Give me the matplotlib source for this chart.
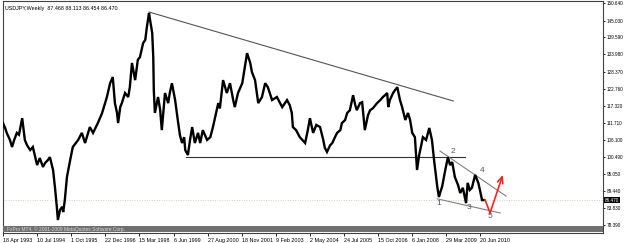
import matplotlib
matplotlib.use("Agg")
import matplotlib.pyplot as plt
from matplotlib.patches import Rectangle
from matplotlib.transforms import blended_transform_factory

# ---------------------------------------------------------------------------
# Data (weeks since 18 Apr 1993, USDJPY weekly close)
# ---------------------------------------------------------------------------

weeks = [0, 4, 7, 13, 17, 21, 26, 30, 36, 41, 45, 51, 56, 64, 69, 75, 79, 84, 88, 94,
         98, 101, 103, 107, 111, 113, 116, 120, 126, 131, 141, 148, 154, 163, 169, 178,
         186, 195, 201, 206, 210, 214, 216, 220, 223, 229, 235, 238, 242, 248, 253, 257,
         263, 267, 270, 274, 276, 280, 282, 283, 285, 291, 295, 298, 304, 310, 313, 317,
         323, 328, 332, 336, 340, 342, 347, 351, 355, 360, 366, 370, 375, 383, 389, 394,
         404, 407, 413, 420, 426, 432, 435, 441, 449, 458, 464, 467, 473, 479, 486, 492,
         497, 505, 514, 524, 533, 538, 542, 544, 550, 557, 567, 572, 576, 582, 588, 595,
         601, 604, 608, 614, 618, 623, 627, 633, 636, 642, 646, 651, 655, 657, 661, 664,
         670, 674, 679, 685, 689, 694, 702, 708, 713, 717, 721, 723, 726, 732, 736, 740,
         745, 749, 755, 760, 764, 768, 773, 777, 781, 783, 788, 794, 800, 805, 809, 815,
         818, 822, 824, 830, 835, 839, 843, 848, 854, 858, 863, 869, 872, 876, 880, 886,
         892, 895, 899, 902]
close = [111.6, 110.0, 108.4, 106.1, 103.8, 106.1, 108.4, 107.8, 113.2, 106.1, 104.4, 102.8,
         103.8, 97.9, 100.2, 97.3, 98.6, 99.5, 100.5, 96.3, 89.8, 84.3, 80.0, 83.3, 84.3,
         82.6, 86.5, 94.0, 99.5, 103.8, 106.1, 108.4, 105.1, 110.3, 108.4, 111.6, 114.9,
         120.1, 124.6, 126.6, 118.1, 114.9, 111.6, 116.8, 118.1, 121.4, 120.1, 123.3, 131.2,
         125.6, 132.2, 133.1, 137.7, 138.7, 142.9, 147.5, 145.2, 141.0, 133.1, 122.4, 114.9,
         120.1, 115.8, 109.3, 121.4, 118.1, 121.4, 124.6, 119.1, 112.6, 107.7, 105.1, 107.0,
         102.8, 101.2, 106.1, 110.3, 105.1, 108.4, 105.1, 109.3, 106.1, 107.0, 110.3, 118.1,
         116.4, 125.6, 121.4, 124.6, 119.1, 116.8, 121.4, 124.6, 134.4, 131.2, 128.3, 125.6,
         118.1, 120.1, 124.6, 123.3, 119.1, 120.1, 116.8, 119.1, 117.5, 114.9, 110.3, 109.3,
         107.0, 105.1, 109.3, 113.2, 108.4, 111.0, 110.3, 106.1, 103.5, 102.2, 104.4, 105.1,
         107.0, 108.4, 109.3, 111.6, 112.6, 114.9, 115.8, 119.1, 120.7, 117.5, 115.8, 118.1,
         118.4, 109.3, 114.2, 115.8, 116.4, 118.1, 119.1, 120.1, 120.7, 121.4, 116.8, 119.1,
         121.4, 122.4, 123.3, 119.1, 116.8, 112.6, 114.9, 112.6, 108.4, 107.0, 96.3, 101.2,
         102.8, 107.0, 106.1, 110.0, 106.1, 99.5, 90.8, 87.5, 89.8, 90.8, 96.3, 100.5, 97.9,
         98.9, 94.0, 91.4, 88.8, 90.5, 85.5, 92.1, 89.8, 90.5, 94.7, 92.1, 89.8, 86.5, 86.5]

# trend lines drawn on the chart: (week, price) end points
long_trend_w = [274, 845]
long_trend_p = [147.8, 118.8]
support_w = [343, 867]
support_p = [100.5, 100.5]
wedge_top_w = [820, 944]
wedge_top_p = [102.5, 87.8]
wedge_bot_w = [815, 933]
wedge_bot_p = [86.9, 82.3]
arrow_w = [905, 914, 938]
arrow_p = [86.5, 82.3, 94.7]

wave_labels = ["1", "2", "3", "4", "5"]
wave_w = [818, 845, 875, 899, 914]
wave_p = [85.5, 102.2, 84.0, 96.0, 81.3]

last_price = 86.470
header = "USDJPY,Weekly  87.468 88.113 86.454 86.470"

y_ticks = [150.640, 145.030, 139.590, 133.980, 128.370, 122.760, 117.320,
           111.710, 106.100, 100.490, 95.050, 89.440, 83.830, 78.390]
x_ticks = [0, 64, 128, 192, 256, 320, 384, 448, 512, 576, 640, 704, 768, 832, 896]
x_labels = ["18 Apr 1993", "10 Jul 1994", "1 Oct 1995", "22 Dec 1996", "15 Mar 1998",
            "6 Jun 1999", "27 Aug 2000", "18 Nov 2001", "9 Feb 2003", "2 May 2004",
            "24 Jul 2005", "15 Oct 2006", "6 Jan 2008", "29 Mar 2009", "20 Jun 2010"]

# ---------------------------------------------------------------------------
# Figure
# ---------------------------------------------------------------------------

plt.rcParams["font.family"] = ["Liberation Sans", "DejaVu Sans"]
FS = 3.9
FS_Y = 3.3

fig = plt.figure(figsize=(6.25, 2.43), dpi=100)
ax = fig.add_axes([3 / 625, 10 / 243, 600 / 625, 232 / 243])
ax.set_xlim(0, 1126)
ax.set_ylim(75.77, 151.39)

# last price dotted line
ax.axhline(last_price, color="#d8d0bc", lw=0.7, ls=(0, (1, 1.5)), zorder=1)

# price
ax.plot(weeks, close, color="black", lw=1.7, solid_joinstyle="miter", zorder=3)

# trend lines
ax.plot(long_trend_w, long_trend_p, color="#555555", lw=0.8, zorder=2)
ax.plot(support_w, support_p, color="#333333", lw=0.8, zorder=2)
ax.plot(wedge_top_w, wedge_top_p, color="#808080", lw=0.8, zorder=2)
ax.plot(wedge_bot_w, wedge_bot_p, color="#808080", lw=0.8, zorder=2)

# red projection arrow (open head)
ax.plot(arrow_w[:2], arrow_p[:2], color="#ff2222", lw=1.2, zorder=4)
ax.annotate("", xy=(arrow_w[2], arrow_p[2]), xytext=(arrow_w[1], arrow_p[1]),
            arrowprops=dict(arrowstyle="->,head_length=0.45,head_width=0.2",
                            color="#ff2222", lw=1.2, shrinkA=0, shrinkB=0), zorder=4)

for lab, w, p in zip(wave_labels, wave_w, wave_p):
    ax.text(w, p, lab, fontsize=6, color="#555555", ha="center", va="center", zorder=5)

# header
ax.text(0.004, 0.98, header, transform=ax.transAxes, fontsize=FS,
        ha="left", va="top", color="black")

# copyright strip
ax.add_patch(Rectangle((0, 0.004), 1, 0.026, transform=ax.transAxes,
                       facecolor="#707070", edgecolor="none", zorder=6))
ax.text(0.006, 0.017, "FxPro MT4, \u00a9 2001-2009 MetaQuotes Software Corp.",
        transform=ax.transAxes, fontsize=FS - 0.4, color="#d8d8d8",
        ha="left", va="center", zorder=7)

# axes styling
for side in ["top", "right", "bottom", "left"]:
    ax.spines[side].set_color("#404040")
    ax.spines[side].set_linewidth(0.8)

ax.yaxis.tick_right()
ax.set_yticks(y_ticks)
ax.set_yticklabels([f"{v:.3f}" for v in y_ticks])
ax.tick_params(axis="y", length=1.5, width=0.6, pad=1, labelsize=FS_Y, colors="black")

ax.set_xticks(x_ticks)
ax.set_xticklabels(x_labels, ha="left")
ax.tick_params(axis="x", length=2, width=0.6, pad=1.5, labelsize=FS)

# current price marker on the axis
tr = blended_transform_factory(ax.transAxes, ax.transData)
ax.text(1.0035, last_price, f"{last_price:.3f}", transform=tr, fontsize=FS_Y,
        color="white", ha="left", va="center", zorder=8, clip_on=False,
        bbox=dict(boxstyle="square,pad=0.15", facecolor="black", edgecolor="none"))

fig.savefig("out.png", dpi=100)
